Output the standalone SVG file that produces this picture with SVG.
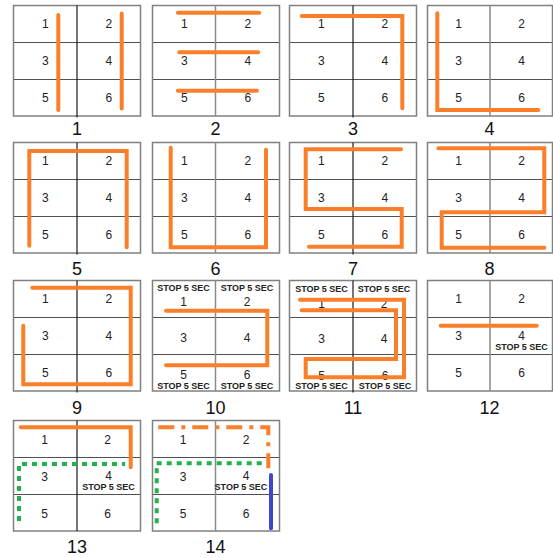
<svg xmlns="http://www.w3.org/2000/svg" width="553" height="558" viewBox="0 0 553 558">
<style>
.bg{fill:#fff}
.bd{fill:none;stroke:#808080;stroke-width:1.5}
.hd{stroke:#505050;stroke-width:1.2}
.vk{stroke:#1a1a1a;stroke-width:1.2}
.vg{stroke:#8a8a8a;stroke-width:1.5}
.n{font-family:"Liberation Sans",Arial,sans-serif;font-size:12px;fill:#222;text-anchor:middle}
.s{font-family:"Liberation Sans",Arial,sans-serif;font-size:9px;font-weight:bold;fill:#222;text-anchor:middle}
.lb{font-family:"Liberation Sans",Arial,sans-serif;font-size:18px;fill:#111;text-anchor:middle}
.o{fill:none;stroke:#FA7F2A;stroke-width:4;stroke-linecap:round;stroke-linejoin:miter}
.od{fill:none;stroke:#FA7F2A;stroke-width:4;stroke-linecap:butt;stroke-dasharray:16 7 4 7}
.g{fill:none;stroke:#22B14C;stroke-width:4;stroke-linecap:butt;stroke-dasharray:5 5}
.b{fill:none;stroke:#3F48CC;stroke-width:4;stroke-linecap:round}
</style>
<defs>
<g id="grid">
<rect class="bg" x="0" y="0" width="127" height="110.5"/>
<line class="hd" x1="0" y1="37" x2="127" y2="37"/>
<line class="hd" x1="0" y1="74" x2="127" y2="74"/>
<rect class="bd" x="0" y="0" width="127" height="110.5"/>
</g>
<g id="grid4">
<rect class="bg" x="0" y="0" width="125" height="110.5"/>
<line class="hd" x1="0" y1="37" x2="125" y2="37"/>
<line class="hd" x1="0" y1="74" x2="125" y2="74"/>
<rect class="bd" x="0" y="0" width="125" height="110.5"/>
</g>
<g id="nums">
<text class="n" x="31.75" y="22.7">1</text><text class="n" x="95.25" y="22.7">2</text>
<text class="n" x="31.75" y="59.5">3</text><text class="n" x="95.25" y="59.5">4</text>
<text class="n" x="31.75" y="96.3">5</text><text class="n" x="95.25" y="96.3">6</text>
</g>
<g id="nums4">
<text class="n" x="31" y="22.7">1</text><text class="n" x="94" y="22.7">2</text>
<text class="n" x="31" y="59.5">3</text><text class="n" x="94" y="59.5">4</text>
<text class="n" x="31" y="96.3">5</text><text class="n" x="94" y="96.3">6</text>
</g>
</defs>

<g id="panel1" transform="translate(13.5,5.5)">
<use href="#grid"/><line class="vk" x1="63.5" y1="0" x2="63.5" y2="112"/><use href="#nums"/>
<path class="o" d="M44.8,9.5V104.5M108.2,8V103"/>
</g>
<g id="panel2" transform="translate(152.5,5.5)">
<use href="#grid"/><line class="vg" x1="63" y1="0" x2="63" y2="110.5"/><use href="#nums"/>
<path class="o" d="M25.4,7.2H106.7M26.7,46.8H105.7M25.4,85.2H104.4"/>
</g>
<g id="panel3" transform="translate(289.5,5.5)">
<use href="#grid"/><line class="vk" x1="63.5" y1="0" x2="63.5" y2="112"/><use href="#nums"/>
<path class="o" d="M12.2,10.5H112.8V102.8"/>
</g>
<g id="panel4" transform="translate(427.5,5.5)">
<use href="#grid4"/><line class="vg" x1="62.5" y1="0" x2="62.5" y2="110.5"/><use href="#nums4"/>
<path class="o" d="M9.8,7.8V104.5H110.8"/>
</g>

<g id="panel5" transform="translate(13.5,142.5)">
<use href="#grid"/><line class="vk" x1="63.5" y1="0" x2="63.5" y2="112"/><use href="#nums"/>
<path class="o" d="M15.8,103.2V8.5H113.2V104.8"/>
</g>
<g id="panel6" transform="translate(152.5,142.5)">
<use href="#grid"/><line class="vg" x1="63" y1="0" x2="63" y2="110.5"/><use href="#nums"/>
<path class="o" d="M18.2,5.2V104.8H113.5V7.2"/>
</g>
<g id="panel7" transform="translate(289.5,142.5)">
<use href="#grid"/><line class="vk" x1="63.5" y1="0" x2="63.5" y2="112"/><use href="#nums"/>
<path class="o" d="M111.5,6.8H16.2V66.5H112.2V104.2H19.5"/>
</g>
<g id="panel8" transform="translate(427.5,142.5)">
<use href="#grid4"/><line class="vg" x1="62.5" y1="0" x2="62.5" y2="110.5"/><use href="#nums4"/>
<path class="o" d="M10.8,5.8H116.8V69.8H14.2V105.2H116.8"/>
</g>

<g id="panel9" transform="translate(13.5,280.5)">
<use href="#grid"/><line class="vk" x1="63.5" y1="0" x2="63.5" y2="112"/><use href="#nums"/>
<path class="o" d="M18.8,7.2H117.2V103.8H9.8V45.2"/>
</g>
<g id="panel10" transform="translate(152.5,280.5)">
<use href="#grid"/><line class="vg" x1="63" y1="0" x2="63" y2="110.5"/>
<text class="s" x="31" y="10.4">STOP 5 SEC</text><text class="s" x="94.5" y="10.4">STOP 5 SEC</text>
<text class="n" x="31" y="25.5">1</text><text class="n" x="94.5" y="25.5">2</text>
<text class="n" x="31" y="61.5">3</text><text class="n" x="94.5" y="61.5">4</text>
<text class="n" x="31" y="98">5</text><text class="n" x="94.5" y="98">6</text>
<text class="s" x="31" y="108.6">STOP 5 SEC</text><text class="s" x="94.5" y="108.6">STOP 5 SEC</text>
<path class="o" d="M13.5,30.2H114.8V84.8H13.5"/>
</g>
<g id="panel11" transform="translate(289.5,280.5)">
<use href="#grid"/><line class="vk" x1="63.5" y1="0" x2="63.5" y2="112"/>
<text class="s" x="32" y="11.5">STOP 5 SEC</text><text class="s" x="94.5" y="11.5">STOP 5 SEC</text>
<text class="n" x="32" y="27">1</text><text class="n" x="94.5" y="27">2</text>
<text class="n" x="32" y="62">3</text><text class="n" x="94.5" y="62">4</text>
<text class="n" x="32" y="99.5">5</text><text class="n" x="95.5" y="99.5">6</text>
<text class="s" x="32" y="108.8">STOP 5 SEC</text><text class="s" x="95.5" y="108.8">STOP 5 SEC</text>
<path class="o" d="M12.2,29.8H106.5V78.5H16.2V96.8H114.5V19.2H10.5"/>
</g>
<g id="panel12" transform="translate(427.5,280.5)">
<use href="#grid4"/><line class="vg" x1="62.5" y1="0" x2="62.5" y2="110.5"/>
<text class="n" x="31" y="22.7">1</text><text class="n" x="94" y="22.7">2</text>
<text class="n" x="31" y="59.5">3</text><text class="n" x="94" y="59.5">4</text>
<text class="s" x="94" y="69.5">STOP 5 SEC</text>
<text class="n" x="31" y="96.3">5</text><text class="n" x="94" y="96.3">6</text>
<path class="o" d="M13.2,45.2H109.2"/>
</g>

<g id="panel13" transform="translate(13.5,420.5)">
<use href="#grid"/><line class="vk" x1="63.5" y1="0" x2="63.5" y2="110.5"/>
<text class="n" x="31" y="23.5">1</text><text class="n" x="94" y="23.5">2</text>
<text class="n" x="31" y="60">3</text><text class="n" x="95" y="59.5">4</text>
<text class="s" x="95" y="69">STOP 5 SEC</text>
<text class="n" x="31" y="97.5">5</text><text class="n" x="94" y="97.5">6</text>
<path class="o" d="M7.2,6.8H117.2V46.8"/>
<path class="g" d="M5.5,100.5V43.5H111.5"/>
</g>
<g id="panel14" transform="translate(152.5,420.5)">
<use href="#grid"/><line class="vg" x1="63" y1="0" x2="63" y2="110.5"/>
<text class="n" x="30.5" y="23.5">1</text><text class="n" x="93.5" y="23.5">2</text>
<text class="n" x="30.5" y="60">3</text><text class="n" x="93.5" y="59.5">4</text>
<text class="s" x="88.4" y="69">STOP 5 SEC</text>
<text class="n" x="30.5" y="97.5">5</text><text class="n" x="93.5" y="97.5">6</text>
<path class="od" d="M5.8,6.8H115.8V47.8"/>
<path class="g" d="M4.2,102.8V42.8H112.5"/>
<path class="b" d="M118.5,54.5V107.8"/>
</g>

<g id="labels">
<text class="lb" x="77" y="135">1</text>
<text class="lb" x="215.5" y="135">2</text>
<text class="lb" x="353" y="135">3</text>
<text class="lb" x="489.5" y="135">4</text>
<text class="lb" x="77" y="275">5</text>
<text class="lb" x="215.5" y="275">6</text>
<text class="lb" x="353" y="275">7</text>
<text class="lb" x="489.5" y="275">8</text>
<text class="lb" x="77" y="413.5">9</text>
<text class="lb" x="215.5" y="413.5">10</text>
<text class="lb" x="353" y="413.5">11</text>
<text class="lb" x="489.5" y="413.5">12</text>
<text class="lb" x="77" y="552.5">13</text>
<text class="lb" x="215.5" y="552.5">14</text>
</g>
</svg>
